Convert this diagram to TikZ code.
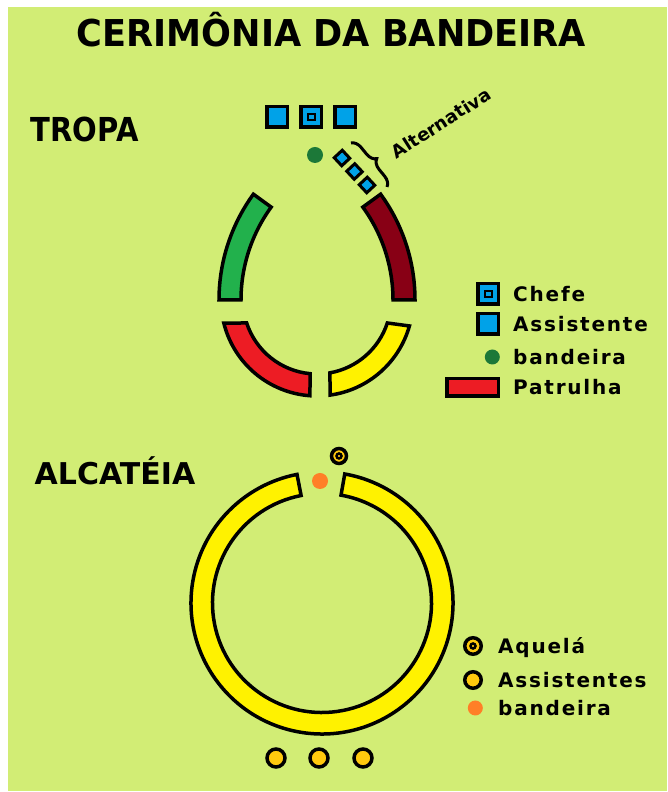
\documentclass[tikz,border=0pt]{standalone}
\usepackage{fontspec}
\newfontfamily\headfont{DejaVu Sans}
\newfontfamily\legendfont[LetterSpace=9]{DejaVu Sans}
\usetikzlibrary{positioning, decorations.pathreplacing}
\definecolor{meadow}{RGB}{210,237,117}
\definecolor{patgreen}{RGB}{34,177,76}
\definecolor{patmaroon}{RGB}{136,0,21}
\definecolor{patred}{RGB}{237,28,36}
\definecolor{patyellow}{RGB}{255,242,0}
\definecolor{scoutblue}{RGB}{0,162,232}
\definecolor{flaggreen}{RGB}{28,120,56}
\definecolor{flagorange}{RGB}{255,127,39}
\definecolor{cubgold}{RGB}{255,201,14}

\begin{document}
\begin{tikzpicture}[x=1pt, y=1pt,
    heading/.style={font=\headfont\bfseries\fontsize{#1}{#1}\selectfont, inner sep=0pt, anchor=base},
    legend/.style={font=\legendfont\bfseries\fontsize{20}{24}\selectfont, inner sep=0pt, text height=14.5pt, text depth=0pt},
    altlabel/.style={font=\headfont\bfseries\fontsize{18}{20}\selectfont, inner sep=0pt},
    assistente/.style={rectangle, draw=black, fill=scoutblue, line width=3.5pt, minimum size=#1, inner sep=0pt},
    assistente/.default=20.5pt,
    chefe/.style={assistente, path picture={\draw[line width=2pt] ([shift={(-3.5pt,-3pt)}]path picture bounding box.center) rectangle ([shift={(3.5pt,3pt)}]path picture bounding box.center);}},
    altbox/.style={assistente=11pt, line width=3pt, rotate=43},
    altchefe/.style={altbox, path picture={\fill (path picture bounding box.center) circle (2pt);}},
    cub/.style={circle, draw=black, fill=cubgold, line width=3.5pt, minimum size=18pt, inner sep=0pt},
    akela/.style={cub, path picture={\draw[line width=2.5pt] (path picture bounding box.center) circle (2.5pt);}},
    flag/.style={circle, fill=#1, minimum size=16pt, inner sep=0pt},
    patrol/.style={draw=black, fill=#1, line width=3.5pt},
    brace/.style={decorate, decoration={brace, amplitude=10pt}, line width=3pt}]

   \path[use as bounding box, fill=white] (0,0) rectangle (667,792);
   \fill[meadow] (8,1) rectangle (667,785);

   \node[heading=37, xscale=0.95] (title) at (331.5,745) {CERIMÔNIA DA BANDEIRA};
   \node[heading=33, xscale=0.88] (tropa) at (84.5,650) {TROPA};
   \node[heading=30] (alcateia) at (115,307) {ALCATÉIA};

   % tropa
   \node[chefe] (tChefe) at (311,675) {};
   \node[assistente, left=10pt of tChefe] (tAssistL) {};
   \node[assistente, right=10pt of tChefe] (tAssistR) {};
   \node[flag=flaggreen] (tFlag) at (315,637) {};

   \node[altbox] (alt1) at (342,634) {};
   \node[altchefe] (alt2) at (354.5,620.5) {};
   \node[altbox] (alt3) at (367,607) {};
   \coordinate (braceTop) at (351,649);
   \coordinate (braceBot) at (387,605);
   \draw[brace] (braceTop) -- (braceBot);
   \node[altlabel, rotate=32.5] (altTxt) at (441,669) {Alternativa};

   \begin{scope}[shift={(399,492)}]
     \draw[patrol=patgreen] (180:180) arc[start angle=180, end angle=144, radius=180]
       -- (144:158) arc[start angle=144, end angle=180, radius=158] -- cycle;
   \end{scope}
   \begin{scope}[shift={(235,492)}]
     \draw[patrol=patmaroon] (0:180) arc[start angle=0, end angle=36, radius=180]
       -- (36:158) arc[start angle=36, end angle=0, radius=158] -- cycle;
   \end{scope}
   \begin{scope}[shift={(317,492)}]
     \draw[patrol=patred] (193.9:96) arc[start angle=193.9, end angle=265.8, radius=96]
       -- (264.6:74) arc[start angle=264.6, end angle=198.1, radius=74] -- cycle;
     \draw[patrol=patyellow] (277.8:96) arc[start angle=277.8, end angle=344.3, radius=96]
       -- (341.9:74) arc[start angle=341.9, end angle=280.1, radius=74] -- cycle;
   \end{scope}

   \node[chefe, anchor=east] (lgChefe) at (500,498) {};
   \node[legend, right=13pt of lgChefe] (lgChefeTxt) {Chefe};
   \node[assistente, anchor=east] (lgAssist) at (500,468) {};
   \node[legend, right=13pt of lgAssist] (lgAssistTxt) {Assistente};
   \node[flag=flaggreen, minimum size=15pt, anchor=east] (lgFlag) at (500,435) {};
   \node[legend, right=13pt of lgFlag] (lgFlagTxt) {bandeira};
   \node[rectangle, patrol=patred, minimum width=51.5pt, minimum height=17.5pt, anchor=east] (lgPatrol) at (500,404.5) {};
   \node[legend, right=13pt of lgPatrol] (lgPatrolTxt) {Patrulha};

   % alcateia
   \begin{scope}[shift={(322,189)}]
     \draw[patrol=patyellow] (80:131) arc[start angle=80, end angle=-259, radius=131]
       -- (101:109.5) arc[start angle=101, end angle=440, radius=109.5] -- cycle;
   \end{scope}
   \node[akela, minimum size=15pt] (aAkela) at (339,336) {};
   \node[flag=flagorange] (aFlag) at (320,311) {};
   \foreach \x [count=\i] in {276,319,363}
     \node[cub] (aCub\i) at (\x,34) {};

   \node[akela, minimum size=16.5pt, anchor=east] (lgAkela) at (483,146) {};
   \node[legend, right=15pt of lgAkela] (lgAkelaTxt) {Aquelá};
   \node[cub, minimum size=16.5pt, anchor=east] (lgCub) at (483,112) {};
   \node[legend, right=15pt of lgCub] (lgCubTxt) {Assistentes};
   \node[flag=flagorange, minimum size=15pt, anchor=east] (lgOrange) at (483,84) {};
   \node[legend, right=15pt of lgOrange] (lgOrangeTxt) {bandeira};
\end{tikzpicture}
\end{document}
